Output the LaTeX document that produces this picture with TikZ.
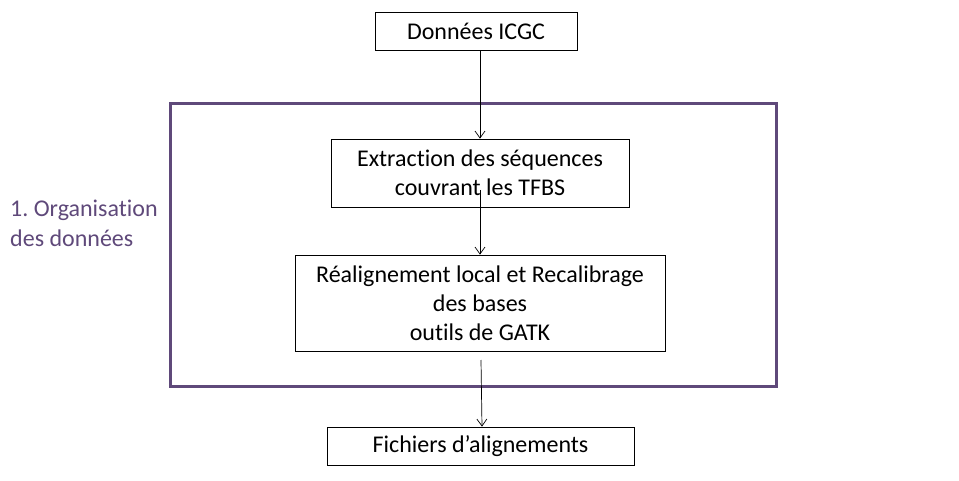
\documentclass[tikz,border=0pt]{standalone}
\usepackage{fontspec}
\setmainfont[RawFeature=-liga]{Carlito}
\usetikzlibrary{arrows.meta}
\definecolor{frame}{HTML}{5F497A}
\frenchspacing
\begin{document}
\begin{tikzpicture}[x=1pt,y=-1pt,
  box/.style={draw=black,line width=0.75pt,inner sep=0pt,align=center,font=\fontsize{24}{29}\selectfont},
  arr/.style={-{Straight Barb[length=7pt,width=10pt]},line width=0.7pt}]
\useasboundingbox (0,0) rectangle (959,481);
\draw[frame,line width=3pt] (170,104) rectangle (776,386);
\node[box,minimum width=202pt,minimum height=38pt] (a) at (476,31) {Données ICGC};
\node[box,minimum width=298pt,minimum height=68pt] (b) at (480,173) {Extraction des séquences\\couvrant les TFBS};
\node[box,minimum width=370pt,minimum height=96pt] (c) at (480,303) {Réalignement local et Recalibrage\\des bases\\outils de GATK};
\node[box,minimum width=307pt,minimum height=38pt] (d) at (480.5,446) {Fichiers d’alignements};
\node[text=frame,align=left,anchor=north west,inner sep=0pt,font=\fontsize{24}{30}\selectfont] (lab) at (10,200) {1. Organisation\\des données};
\coordinate (s2) at (480,190);
\coordinate (s3) at (481,360);
\draw[arr] (a.south -| 480,0) -- (b.north -| 480,0);
\draw[arr] (s2) -- (c.north -| s2);
\draw[arr] (s3) -- (d.north -| 482,0);
\end{tikzpicture}
\end{document}
